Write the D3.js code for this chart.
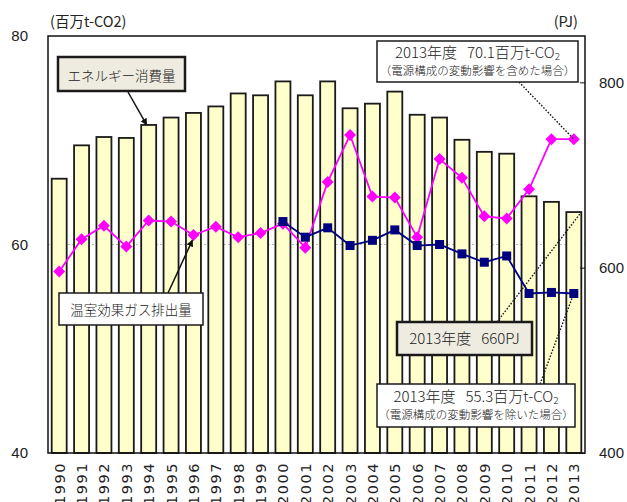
<!DOCTYPE html>
<html>
<head>
<meta charset="utf-8">
<script src="https://cdn.jsdelivr.net/npm/d3@7"></script>
<style>
    body { margin: 0; background: #fff; }
    svg { display: block; }
</style>
</head>
<body>
<div id="chart"></div>
<script>
// years on the category axis
const years = d3.range(1990, 2014).map(String);

// energy consumption (PJ, right axis) - bars
const energyPJ = [696, 732, 741, 740, 754, 762, 767, 774, 788, 786, 801, 786,
                  801, 772, 777, 790, 765, 762, 738, 725, 723, 677, 671, 660];

// GHG emissions incl. power-mix effect (Mt-CO2, left axis) - pink line
const ghgIncl = [57.4, 60.5, 61.8, 59.8, 62.3, 62.2, 60.9, 61.7, 60.7, 61.1, 62.0, 59.7,
                 66.0, 70.5, 64.6, 64.5, 60.7, 68.2, 66.4, 62.7, 62.5, 65.3, 70.1, 70.1];

// GHG emissions excl. power-mix effect (Mt-CO2, left axis) - navy line, from 2000
const ghgExcl = [null, null, null, null, null, null, null, null, null, null, 62.2, 60.7,
                 61.6, 59.9, 60.4, 61.4, 59.9, 60.0, 59.1, 58.3, 58.9, 55.3, 55.4, 55.3];

const leftTicks = [40, 60, 80];
const rightTicks = [400, 600, 800];

const W = 627, H = 502;
const plot = { left: 48, right: 585, top: 36, bottom: 453 };
const jp = "'Noto Sans CJK JP', sans-serif";
const colors = {
    bar: "#ffffcc", barStroke: "#1a1a1a", incl: "#ff00ff", excl: "#000080",
    grid: "#bdbdbd", text: "#222", tan: "#eeece1"
};
const gap = "\u00a0\u00a0\u00a0";

const svg = d3.select("#chart").append("svg")
    .attr("width", W).attr("height", H)
    .attr("viewBox", [0, 0, W, H]);

const x = d3.scaleBand().domain(years)
    .range([plot.left, plot.right])
    .paddingInner(0.33).paddingOuter(0.165);
const yL = d3.scaleLinear().domain([40, 80]).range([plot.bottom, plot.top]);
const yR = d3.scaleLinear().domain([400, 850]).range([plot.bottom, plot.top]);
const cx = i => x(years[i]) + x.bandwidth() / 2;

// gridline at 60
svg.append("g")
    .selectAll("line").data(leftTicks.filter(t => t > 40 && t < 80)).join("line")
    .attr("x1", plot.left).attr("x2", plot.right)
    .attr("y1", d => yL(d)).attr("y2", d => yL(d))
    .attr("stroke", colors.grid).attr("stroke-dasharray", "2,2");

// bars
svg.append("g")
    .selectAll("rect").data(energyPJ).join("rect")
    .attr("x", (d, i) => x(years[i]))
    .attr("y", d => yR(d))
    .attr("width", x.bandwidth())
    .attr("height", d => yR(400) - yR(d))
    .attr("fill", colors.bar)
    .attr("stroke", colors.barStroke)
    .attr("stroke-width", 1.8);

// frame
svg.append("rect")
    .attr("x", plot.left).attr("y", plot.top)
    .attr("width", plot.right - plot.left).attr("height", plot.bottom - plot.top)
    .attr("fill", "none").attr("stroke", "#111").attr("stroke-width", 1.5);

// left axis
const axL = svg.append("g")
    .attr("transform", `translate(${plot.left},0)`)
    .call(d3.axisLeft(yL).tickValues(leftTicks).tickSize(0).tickPadding(20));
axL.select(".domain").remove();
axL.selectAll("text")
    .attr("font-family", "'Liberation Sans', Arial, sans-serif")
    .attr("font-size", 15).attr("fill", colors.text);

// right axis
const axR = svg.append("g")
    .attr("transform", `translate(${plot.right},0)`)
    .call(d3.axisRight(yR).tickValues(rightTicks).tickSize(-5).tickPadding(14));
axR.select(".domain").remove();
axR.selectAll("line").attr("stroke", "#111");
axR.selectAll("text")
    .attr("font-family", "'Liberation Sans', Arial, sans-serif")
    .attr("font-size", 15).attr("fill", colors.text);

// x axis year labels (rotated)
svg.append("g")
    .selectAll("text").data(years).join("text")
    .attr("transform", (d, i) => `translate(${cx(i) + 5.5},${plot.bottom + 9}) rotate(-90)`)
    .attr("text-anchor", "end")
    .attr("font-family", "'DejaVu Sans', Verdana, sans-serif")
    .attr("font-size", 14.5)
    .attr("letter-spacing", 1.5)
    .attr("fill", colors.text)
    .text(d => d);

// axis titles
svg.append("text").attr("x", 50).attr("y", 27)
    .attr("font-family", jp).attr("font-size", 14.5).attr("fill", colors.text)
    .text("(百万t-CO2)");
svg.append("text").attr("x", 578).attr("y", 27).attr("text-anchor", "end")
    .attr("font-family", jp).attr("font-size", 14.5).attr("fill", colors.text)
    .text("(PJ)");

// lines
const lineIncl = d3.line().x((d, i) => cx(i)).y(d => yL(d));
const lineExcl = d3.line().defined(d => d != null).x((d, i) => cx(i)).y(d => yL(d));

svg.append("path").datum(ghgIncl)
    .attr("d", lineIncl).attr("fill", "none")
    .attr("stroke", colors.incl).attr("stroke-width", 1.8);
svg.append("g")
    .selectAll("path").data(ghgIncl).join("path")
    .attr("d", d3.symbol(d3.symbolDiamond2, 92))
    .attr("transform", (d, i) => `translate(${cx(i)},${yL(d)})`)
    .attr("fill", colors.incl);

svg.append("path").datum(ghgExcl)
    .attr("d", lineExcl).attr("fill", "none")
    .attr("stroke", colors.excl).attr("stroke-width", 1.8);
svg.append("g")
    .selectAll("rect").data(ghgExcl.map((v, i) => [v, i]).filter(p => p[0] != null)).join("rect")
    .attr("x", p => cx(p[1]) - 4.5).attr("y", p => yL(p[0]) - 4.5)
    .attr("width", 9).attr("height", 9)
    .attr("fill", colors.excl);

// arrow marker
svg.append("defs").append("marker")
    .attr("id", "arrow").attr("viewBox", "0 0 10 10")
    .attr("refX", 9).attr("refY", 5)
    .attr("markerWidth", 7).attr("markerHeight", 7)
    .attr("markerUnits", "userSpaceOnUse")
    .attr("orient", "auto")
    .append("path").attr("d", "M0,0L10,5L0,10Z").attr("fill", "#111");

function renderBox(bx, by, bw, bh, fill, sw) {
    return svg.append("rect")
        .attr("x", bx).attr("y", by).attr("width", bw).attr("height", bh)
        .attr("fill", fill).attr("stroke", "#1a1a1a").attr("stroke-width", sw);
}

function renderText(tx, ty, size, parts) {
    const t = svg.append("text")
        .attr("x", tx).attr("y", ty).attr("text-anchor", "middle")
        .attr("font-family", jp).attr("font-weight", 300)
        .attr("font-size", size).attr("fill", colors.text);
    parts.forEach(p => {
        const s = t.append("tspan").text(p.text);
        if (p.sub) s.attr("font-size", size * 0.66).attr("dy", 2);
    });
    return t;
}

function leader(x1, y1, x2, y2) {
    svg.append("line")
        .attr("x1", x1).attr("y1", y1).attr("x2", x2).attr("y2", y2)
        .attr("stroke", "#1a1a1a").attr("stroke-width", 1.4)
        .attr("stroke-dasharray", "1.6,1.6");
}

function arrow(x1, y1, x2, y2) {
    svg.append("line")
        .attr("x1", x1).attr("y1", y1).attr("x2", x2).attr("y2", y2)
        .attr("stroke", "#111").attr("stroke-width", 1.5)
        .attr("marker-end", "url(#arrow)");
}

const last = years.length - 1;

// leader lines to the 2013 values
leader(519, 82, cx(last), yL(ghgIncl[last]));
leader(497, 322, x(years[last]) + x.bandwidth(), yR(energyPJ[last]));
leader(540, 384, cx(last), yL(ghgExcl[last]));

// arrows from labels
arrow(128, 92, cx(4) - 2, yR(energyPJ[4]));
arrow(168, 293, cx(6) - 1, yL(ghgIncl[6]) + 5);

// annotation boxes
renderBox(58, 57, 127, 34, colors.tan, 2.5);
renderText(121.5, 81, 13.5, [{ text: "エネルギー消費量" }]);

renderBox(59, 293, 144, 32, "#fff", 1.5);
renderText(131, 315, 13.5, [{ text: "温室効果ガス排出量" }]);

renderBox(397, 322, 135, 33, colors.tan, 2.5);
renderText(464.5, 344, 15, [{ text: "2013年度" + gap + "660PJ" }]);

renderBox(377, 41, 201, 41, "#fff", 1.5);
renderText(477.5, 58, 15, [{ text: "2013年度" + gap + "70.1百万t-CO" }, { text: "2", sub: true }]);
renderText(477.5, 75, 11.5, [{ text: "（電源構成の変動影響を含めた場合）" }]);

renderBox(377, 384, 198, 43, "#fff", 1.5);
renderText(476, 402, 15, [{ text: "2013年度" + gap + "55.3百万t-CO" }, { text: "2", sub: true }]);
renderText(476, 419, 11.5, [{ text: "（電源構成の変動影響を除いた場合）" }]);
</script>
</body>
</html>
